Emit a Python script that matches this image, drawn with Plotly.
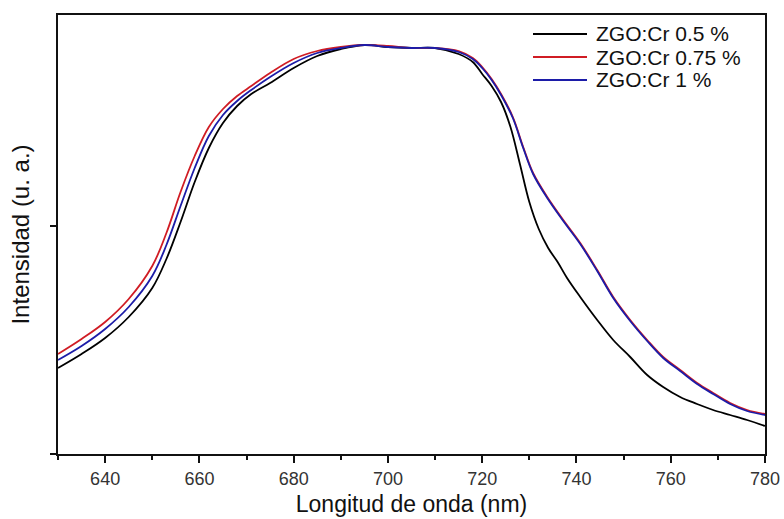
import plotly.graph_objects as go

# Wavelength (nm) and intensities (a.u.)
wl_black = [630, 635, 640, 645, 650, 653, 656, 659, 662, 665, 668, 671, 675, 680, 685, 690,
            695, 700, 705, 710, 715, 718, 720, 722, 724, 726, 728, 730, 732, 734, 736, 738,
            740.8, 744.4, 747.8, 751.4, 755, 758.4, 762, 765.6, 769, 772.6, 776.2, 780]
int_05 = [86, 100, 116, 137, 166, 195, 232, 272, 306, 331, 348, 360, 371, 386, 398, 405,
          409, 407, 406, 406, 400, 392, 380, 368, 352, 327, 290, 252, 225, 206, 192, 176,
          157, 134, 114, 97, 79, 67, 57, 50, 44, 39, 34, 28]

wl_col = [630, 635, 640, 645, 650, 653, 656, 659, 662, 665, 668, 671, 675, 680, 685, 690,
          695, 700, 705, 710, 715, 718, 720, 722, 724, 726.5, 728.7, 730.8, 733.8, 737.2,
          740.8, 744.4, 747.8, 751.4, 755, 758.4, 762, 765.6, 769, 772.6, 776.2, 780]
int_075 = [100, 115, 132, 155, 188, 221, 262, 298, 327, 345, 358, 368, 381, 395, 403, 407,
           409, 408, 406, 406, 403, 396, 387, 375, 360, 337, 307, 281, 257, 234,
           211, 184, 157, 134, 114, 97, 84, 71, 61, 51, 44, 40]
int_1 = [94, 108, 125, 147, 178, 209, 248, 286, 318, 339, 353, 364, 377, 391, 401, 406,
         409, 407, 406, 406, 402, 395, 386, 374, 359, 336, 306, 280, 256, 233,
         210, 183, 156, 133, 113, 96, 83, 70, 60, 50, 43, 39]

names = ["ZGO:Cr 0.5 %", "ZGO:Cr 0.75 %", "ZGO:Cr 1 %"]
colors = ["#000000", "#d01c24", "#1c1ca8"]

fig = go.Figure()
for x, y, n, c in [(wl_black, int_05, names[0], colors[0]),
                   (wl_col, int_075, names[1], colors[1]),
                   (wl_col, int_1, names[2], colors[2])]:
    fig.add_trace(go.Scatter(x=x, y=y, name=n, mode="lines", showlegend=False,
                             line=dict(color=c, width=1.8, shape="spline", smoothing=1.0)))

# Legend drawn in paper coordinates (plot area: x 58..765, y 15..454 px)
W, H = 784, 519
L, R, T, B = 58, 19, 15, 65
pw, ph = W - L - R, H - T - B
def px(xp):
    return (xp - L) / pw
def py(yp):
    return (H - B - yp) / ph

row_y = [34, 57, 80]
for n, c, yy in zip(names, colors, row_y):
    fig.add_shape(type="line", xref="paper", yref="paper",
                  x0=px(533), x1=px(587), y0=py(yy), y1=py(yy),
                  line=dict(color=c, width=1.8))
    fig.add_annotation(text=n, xref="paper", yref="paper", x=px(594), y=py(yy),
                       xanchor="left", yanchor="middle", showarrow=False,
                       font=dict(size=21, color="#111111"))

font = "Liberation Sans, Arial, sans-serif"
fig.update_layout(
    width=W, height=H,
    margin=dict(l=L, r=R, t=T, b=B),
    plot_bgcolor="white", paper_bgcolor="white",
    font=dict(family=font, color="#222222"),
    showlegend=False,
    xaxis=dict(range=[630, 780], tick0=640, dtick=20, ticks="outside", ticklen=7,
               tickwidth=1.5, tickcolor="#111", showline=True, linecolor="#111",
               linewidth=1.8, mirror=True, showgrid=False, zeroline=False,
               automargin=False,
               tickfont=dict(size=18, color="#333"),
               minor=dict(dtick=10, ticks="outside", ticklen=4, tickcolor="#111", showgrid=False),
               title=dict(text="Longitud de onda (nm)", font=dict(size=23, color="#111"), standoff=8)),
    yaxis=dict(range=[0, 439], tickvals=[0, 228], showticklabels=False, ticks="outside",
               ticklen=6, tickwidth=1.5, tickcolor="#111", showline=True, linecolor="#111",
               linewidth=1.8, mirror=True, showgrid=False, zeroline=False,
               automargin=False,
               title=dict(text="Intensidad (u. a.)", font=dict(size=24, color="#111"), standoff=14)),
)

fig.write_html("out.html", config={"displayModeBar": False},
               post_script="document.body.style.margin='0';document.body.style.overflow='hidden';")
